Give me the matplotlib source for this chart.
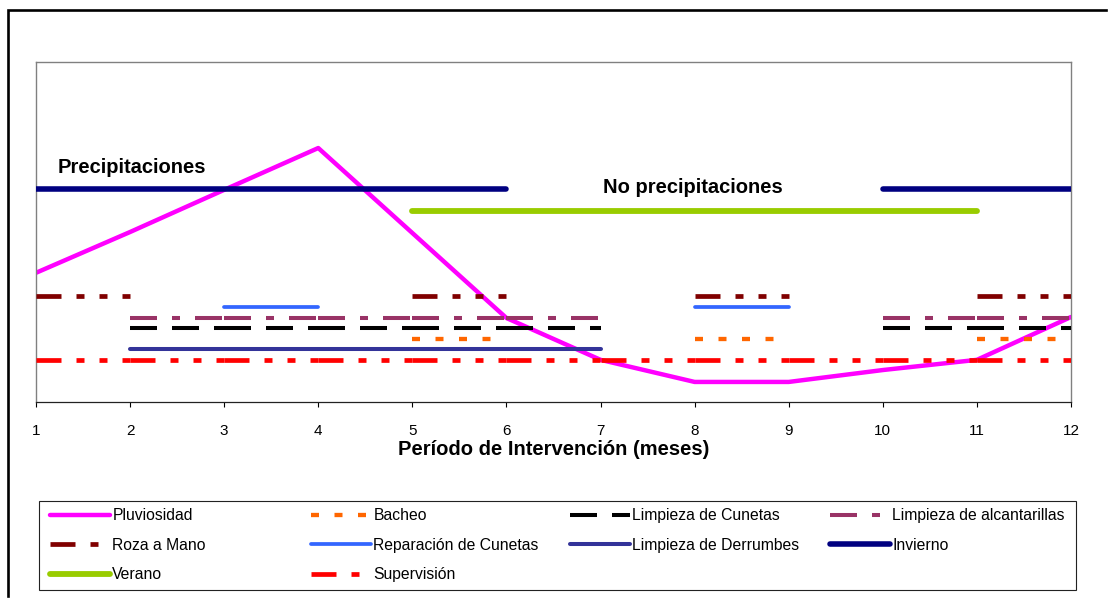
import numpy as np
import matplotlib
matplotlib.use('Agg')
import matplotlib.pyplot as plt
from matplotlib.patches import Rectangle
from matplotlib.lines import Line2D

plt.rcParams['font.family'] = ['Liberation Sans', 'DejaVu Sans']
plt.rcParams['lines.scale_dashes'] = False

N = None
meses = [1, 2, 3, 4, 5, 6, 7, 8, 9, 10, 11, 12]
tick_labels = ['1', '2', '3', '4', '5', '6', '7', '8', '9', '10', '11', '12']

pluviosidad = [38.0, 50.0, 62.4, 74.7, 49.7, 24.7, 12.4, 5.9, 5.9, 9.4, 12.4, 25.0]
bacheo = [N, N, N, N, 18.4, 18.4, N, 18.4, 18.4, N, 18.4, 18.4]
limpieza_cunetas = [N, 21.9, 21.9, 21.9, 21.9, 21.9, 21.9, N, N, 21.9, 21.9, 21.9]
limpieza_alcantarillas = [N, 24.8, 24.8, 24.8, 24.8, 24.8, 24.8, N, N, 24.8, 24.8, 24.8]
roza_mano = [31.2, 31.2, N, N, 31.2, 31.2, N, 31.2, 31.2, N, 31.2, 31.2]
reparacion_cunetas = [N, N, 28.0, 28.0, N, N, N, 28.0, 28.0, N, N, N]
limpieza_derrumbes = [N, 15.5, 15.5, 15.5, 15.5, 15.5, 15.5, N, N, N, N, N]
invierno = [62.6, 62.6, 62.6, 62.6, 62.6, 62.6, N, N, N, 62.6, 62.6, 62.6]
verano = [N, N, N, N, 56.2, 56.2, 56.2, 56.2, 56.2, 56.2, 56.2, N]
supervision = [12.4, 12.4, 12.4, 12.4, 12.4, 12.4, 12.4, 12.4, 12.4, 12.4, 12.4, 12.4]

W, H = 1109, 598
fig = plt.figure(figsize=(W / 100, H / 100), dpi=100)
ax = fig.add_axes([36 / W, 1 - 402 / H, (1071 - 36) / W, (402 - 62) / H])

PX = 0.72  # px -> pt


def draw(vals, label, color, lw, dashes=None, z=2):
    if dashes is None:
        y = np.array([np.nan if v is None else v for v in vals], float)
        ax.plot(meses, y, color=color, lw=lw, solid_capstyle='round',
                label=label, zorder=z)
        return
    first = True
    d = [v * PX for v in dashes]
    for i in range(len(meses) - 1):
        if vals[i] is not None and vals[i + 1] is not None:
            ax.plot(meses[i:i + 2], vals[i:i + 2], color=color, lw=lw,
                    dashes=d, dash_capstyle='butt',
                    label=label if first else '_nolegend_', zorder=z)
            first = False


draw(pluviosidad, 'Pluviosidad', '#FF00FF', 3.2, z=2)
draw(bacheo, 'Bacheo', '#FF6600', 3.1, dashes=[8, 15.5], z=3)
draw(limpieza_cunetas, 'Limpieza de Cunetas', '#000000', 2.9, dashes=[27, 15], z=3)
draw(limpieza_alcantarillas, 'Limpieza de alcantarillas', '#993366', 2.9,
     dashes=[27, 15, 8, 15], z=3)
draw(roza_mano, 'Roza a Mano', '#800000', 3.4, dashes=[25, 15, 8, 15, 8, 15, 8, 15], z=3)
draw(reparacion_cunetas, 'Reparación de Cunetas', '#3366FF', 2.7, z=3)
draw(limpieza_derrumbes, 'Limpieza de Derrumbes', '#333399', 2.9, z=3)
draw(invierno, 'Invierno', '#000080', 4.0, z=3)
draw(verano, 'Verano', '#99CC00', 4.2, z=3)
draw(supervision, 'Supervisión', '#FF0000', 3.4, dashes=[25, 15, 8, 15, 8, 15, 8, 15], z=3)

ax.set_xlim(1, 12)
ax.set_ylim(0, 100)
ax.set_yticks([])
ax.set_xticks(meses)
ax.set_xticklabels(tick_labels, fontsize=11)
ax.tick_params(axis='x', direction='out', length=3.6, width=0.8, pad=12, colors='black')
for s in ['top', 'left', 'right']:
    ax.spines[s].set_color('#808080')
    ax.spines[s].set_linewidth(1.0)
ax.spines['bottom'].set_color('#222222')
ax.spines['bottom'].set_linewidth(0.9)

ax.text(1.234, 67.4, 'Precipitaciones', fontsize=14.5, fontweight='bold',
        ha='left', va='baseline')
ax.text(7.03, 61.5, 'No precipitaciones', fontsize=14.5, fontweight='bold',
        ha='left', va='baseline')

fig.text(554 / W, 1 - 455 / H, 'Período de Intervención (meses)', fontsize=14.5,
         fontweight='bold', ha='center', va='baseline')

# figure border (left and top edges only visible)
bx, by = 8.3 / W, 1 - 10.3 / H
fig.add_artist(Line2D([(W - 3) / W, bx, bx], [by, by, 2 / H], transform=fig.transFigure,
                      color='black', lw=1.9, solid_joinstyle='miter',
                      solid_capstyle='projecting'))
# legend frame
fig.patches.append(Rectangle((39 / W, 1 - 590 / H), (1076 - 39) / W, (590 - 501) / H,
                             transform=fig.transFigure, fill=False,
                             edgecolor='#222222', lw=0.8))

handles = {}
for ln in ax.get_lines():
    lab = ln.get_label()
    if not lab.startswith('_'):
        handles[lab] = ln

columns = [
    ['Pluviosidad', 'Roza a Mano', 'Verano'],
    ['Bacheo', 'Reparación de Cunetas', 'Supervisión'],
    ['Limpieza de Cunetas', 'Limpieza de Derrumbes'],
    ['Limpieza de alcantarillas', 'Invierno'],
]
col_x = [50, 311, 570, 830]
fs = 11.3
for cx, labs in zip(col_x, columns):
    fig.legend([handles[l] for l in labs], labs, loc='upper left',
               bbox_to_anchor=(cx / W, 1 - 508 / H), bbox_transform=fig.transFigure,
               frameon=False, borderpad=0, borderaxespad=0,
               handlelength=60 / (fs / PX), handletextpad=0.15,
               labelspacing=0.93, prop={'family': 'Liberation Sans', 'size': fs})

fig.savefig('out.png', dpi=100)
